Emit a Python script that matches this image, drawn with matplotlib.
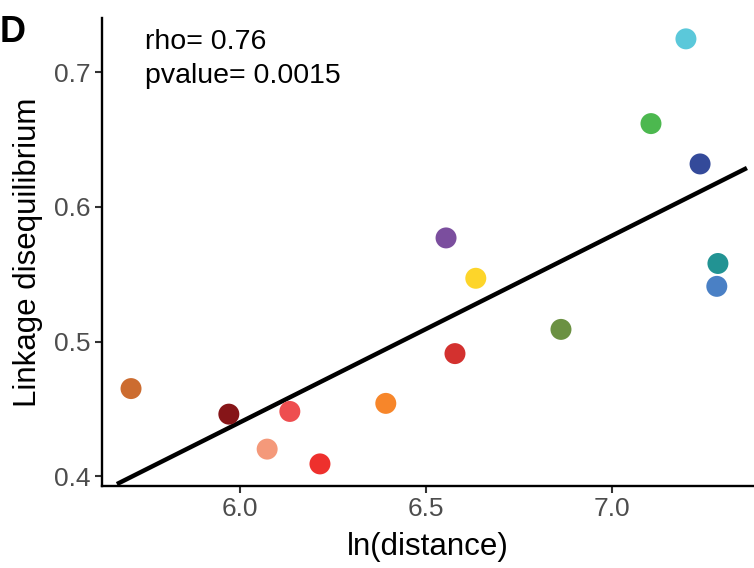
import numpy as np
import matplotlib
matplotlib.use("Agg")
import matplotlib.pyplot as plt

plt.rcParams["font.family"] = ["Liberation Sans", "DejaVu Sans"]

# ln(distance) and linkage disequilibrium per point
ln_distance = [5.707, 5.970, 6.073, 6.134, 6.215, 6.392, 6.578, 6.554,
               6.634, 6.863, 7.105, 7.199, 7.237, 7.285, 7.282]
linkage = [0.465, 0.446, 0.420, 0.448, 0.409, 0.454, 0.491, 0.577,
           0.547, 0.509, 0.662, 0.725, 0.632, 0.558, 0.541]
colors = ["#CC6C30", "#861518", "#F4997A", "#EE4E50", "#EE302D", "#F7862A",
          "#D3312F", "#7B4E9E", "#FDD52A", "#6B9142", "#4CB84F", "#5BC8DA",
          "#344A9A", "#229393", "#4A80C5"]

# fitted line end points
fit_x = [5.669, 7.363]
fit_y = [0.394, 0.629]

fig = plt.figure(figsize=(7.54, 5.68), dpi=100)
ax = fig.add_axes([0.1353, 0.1449, 0.8647, 0.8234])

ax.plot(fit_x, fit_y, color="black", linewidth=3.2, solid_capstyle="butt", zorder=2)
ax.scatter(ln_distance, linkage, c=colors, s=228, linewidths=0, zorder=3)

ax.set_xlim(5.629, 7.382)
ax.set_ylim(0.3928, 0.7405)
ax.set_xticks([6.0, 6.5, 7.0])
ax.set_xticklabels(["6.0", "6.5", "7.0"])
ax.set_yticks([0.4, 0.5, 0.6, 0.7])
ax.set_yticklabels(["0.4", "0.5", "0.6", "0.7"])

for side in ["top", "right"]:
    ax.spines[side].set_visible(False)
for side in ["left", "bottom"]:
    ax.spines[side].set_linewidth(1.7)
ax.tick_params(axis="both", length=5, width=1.5, labelsize=19,
               labelcolor="#4D4D4D", color="#333333", pad=3)

ax.set_xlabel("ln(distance)", fontsize=22.5, labelpad=8)
ax.set_ylabel("Linkage disequilibrium", fontsize=22.5, labelpad=8)

ax.text(0.066, 0.949, "rho= 0.76", transform=ax.transAxes, fontsize=20.5,
        va="center", ha="left")
ax.text(0.066, 0.876, "pvalue= 0.0015", transform=ax.transAxes, fontsize=20.5,
        va="center", ha="left")

fig.text(0.0, 0.942, "D", fontsize=26, fontweight="bold", va="center", ha="left")

fig.savefig("out.png", dpi=100)
